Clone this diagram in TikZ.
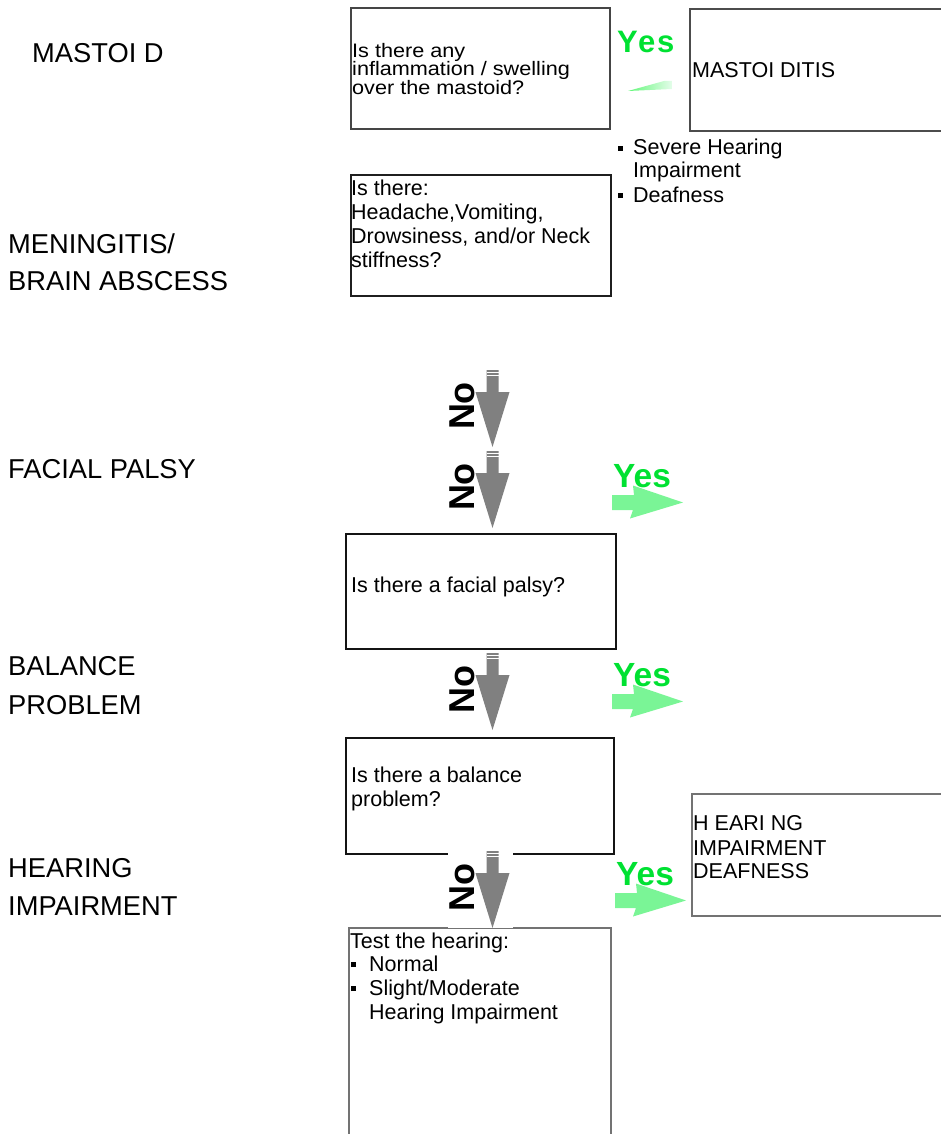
\documentclass[tikz,border=0pt]{standalone}
\usepackage{fontspec}
\setmainfont{Liberation Sans}
\newfontfamily\yesfont[LetterSpace=6]{Liberation Sans}
\newfontfamily\widefont[FakeStretch=1.11]{Liberation Sans}
\definecolor{yesgreen}{RGB}{0,225,50}
\definecolor{arrgreen}{RGB}{122,245,150}
\definecolor{nogray}{RGB}{128,128,128}
\newcommand{\sqb}{\rule[4pt]{5pt}{5pt}}
\begin{document}
\begin{tikzpicture}[x=1pt,y=-1pt,
  side/.style={anchor=base west, inner sep=0pt, font=\fontsize{27.3}{30}\selectfont},
  txt/.style={anchor=base west, inner sep=0pt, font=\fontsize{21.5}{24}\selectfont},
  txtw/.style={anchor=base west, inner sep=0pt, font=\widefont\fontsize{19.5}{19}\selectfont},
  qbox/.style={draw=#1, line width=2pt, anchor=north west, inner sep=0pt},
  noarrow/.pic={
    \fill[white] (-45,-2) rectangle (20,77);
    \fill[nogray] (-6,0) -- (6,0) -- (6,22) -- (17,22) -- (0,77) -- (-17,22) -- (-6,22) -- cycle;
    \draw[white, line width=0.8pt] (-6,2) -- (6,2) (-6,5) -- (6,5);
    \node[rotate=90, inner sep=0pt, font=\fontsize{36}{36}\selectfont\bfseries] (-no) at (-30.5,36) {No};
  },
  yesarrow/.pic={
    \fill[arrgreen] (0,-7.5) -- (22,-7.5) -- (21,-17) -- (71,0) -- (18,16) -- (21,7.5) -- (0,7.5) -- cycle;
    \node[anchor=base west, inner sep=0pt, text=yesgreen, font=\fontsize{33.5}{34}\selectfont\bfseries] (-yes) at (1,-15.5) {Yes};
  }
]
\useasboundingbox (0,0) rectangle (940,1134);

% left column labels
\node[side] (l1) at (32,63) {MASTOI D};
\node[side] (l2) at (8,253) {MENINGITIS/};
\node[side] (l3) at (8,290) {BRAIN ABSCESS};
\node[side] (l4) at (8,478) {FACIAL PALSY};
\node[side] (l5) at (8,675) {BALANCE};
\node[side] (l6) at (8,714) {PROBLEM};
\node[side] (l7) at (8,877) {HEARING};
\node[side] (l8) at (8,915) {IMPAIRMENT};

% boxes
\node[qbox=black!73, minimum width=259pt, minimum height=121pt] (q1) at (350,7) {};
\node[qbox=black!70, minimum width=260pt, minimum height=122pt] (r1) at (689,8) {};
\node[qbox=black!88, minimum width=260pt, minimum height=121pt] (q2) at (350,174) {};
\node[qbox=black!92, minimum width=270pt, minimum height=115pt] (q3) at (345,533) {};
\node[qbox=black!92, minimum width=268pt, minimum height=116pt] (q4) at (345,737) {};
\node[qbox=black!55, minimum width=262pt, minimum height=230pt] (q5) at (348,927) {};
\node[qbox=black!55, minimum width=260pt, minimum height=122pt] (r2) at (691,793) {};

% box texts
\node[txtw] (t1a) at (352,57.5) {Is there any};
\node[txtw] (t1b) at (352,76) {inflammation / swelling};
\node[txtw] (t1c) at (352,94.5) {over the mastoid?};

\node[txt] (tr1) at (692,78) {MASTOI DITIS};

\node[txt] (b1a) at (618,155) {\sqb\hspace{10pt}Severe Hearing};
\node[txt] (b1b) at (633,178) {Impairment};
\node[txt] (b1c) at (618,202) {\sqb\hspace{10pt}Deafness};

\node[txt] (t2a) at (351,195) {Is there:};
\node[txt] (t2b) at (351,219) {Headache,Vomiting,};
\node[txt] (t2c) at (351,243) {Drowsiness, and/or Neck};
\node[txt] (t2d) at (351,267) {stiffness?};

\node[txt] (t3a) at (351,592) {Is there a facial palsy?};

\node[txt] (t4a) at (351,782) {Is there a balance};
\node[txt] (t4b) at (351,806) {problem?};

\node[txt] (t5a) at (350,948) {Test the hearing:};
\node[txt] (t5b) at (351,971) {\sqb\hspace{13pt}Normal};
\node[txt] (t5c) at (351,995) {\sqb\hspace{13pt}Slight/Moderate};
\node[txt] (t5d) at (369,1019) {Hearing Impairment};

\node[txt] (tr2a) at (693,830) {H EARI NG};
\node[txt] (tr2b) at (693,855) {IMPAIRMENT};
\node[txt] (tr2c) at (693,878) {DEAFNESS};

% top yes
\node[anchor=base west, inner sep=0pt, text=yesgreen, font=\yesfont\fontsize{31}{32}\selectfont\bfseries] (y0) at (617,53) {Yes};
\shade[left color=arrgreen!80!green, right color=arrgreen!20] (628,91) -- (664,81) -- (672,81) -- (672,89) -- cycle;

% no arrows
\pic (a1) at (492.5,370) {noarrow};
\pic (a2) at (492.5,451) {noarrow};
\pic (a3) at (492.5,653) {noarrow};
\pic (a4) at (492.5,851) {noarrow};

% yes arrows
\pic (y1) at (612,502.5) {yesarrow};
\pic (y2) at (612,701.5) {yesarrow};
\pic (y3) at (615,900.5) {yesarrow};
\end{tikzpicture}
\end{document}
